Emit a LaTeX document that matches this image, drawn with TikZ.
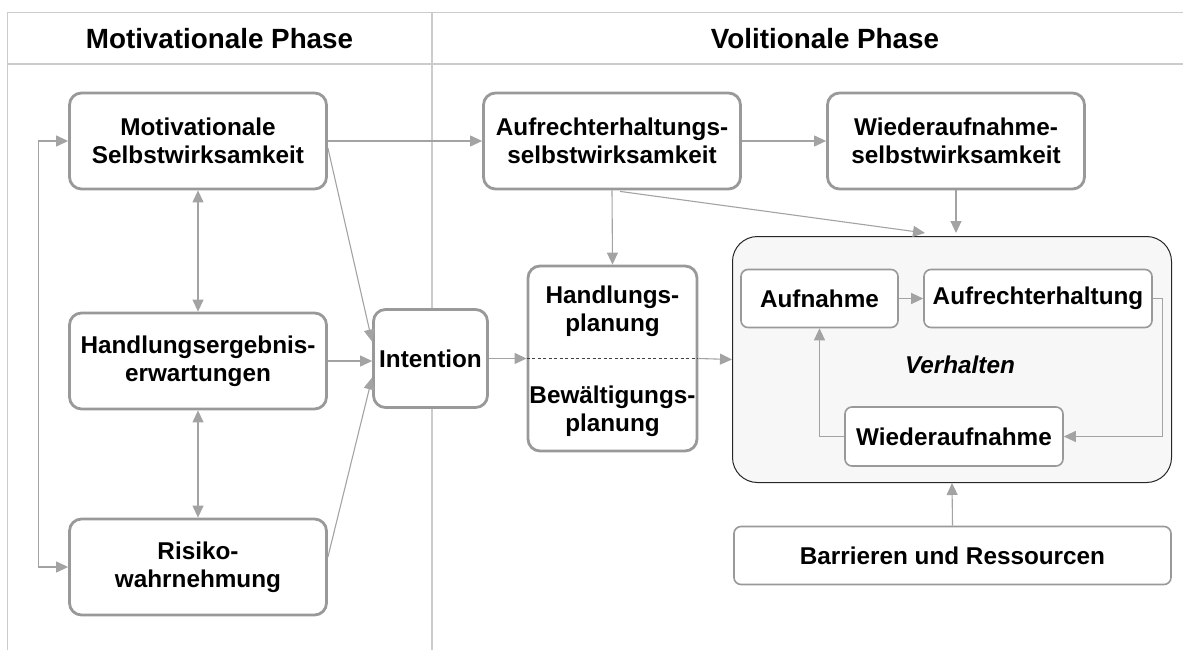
\documentclass[tikz,border=0pt]{standalone}
\usepackage{fontspec}
\setmainfont{Liberation Sans}
\usetikzlibrary{arrows.meta,calc}
\definecolor{boxgray}{HTML}{999999}
\definecolor{linegray}{HTML}{A3A3A3}
\definecolor{tablegray}{HTML}{CCCCCC}
\definecolor{verhfill}{HTML}{F7F7F7}

\begin{document}
\begin{tikzpicture}[x=1pt,y=-1pt,
  every node/.style={font=\fontsize{24.3}{28}\selectfont\bfseries, align=center, inner sep=0pt},
  header/.style={font=\fontsize{27.8}{32}\selectfont\bfseries},
  mainbox/.style={draw=boxgray, line width=2.8pt, rounded corners=12pt, fill=white,
    minimum width=257pt, minimum height=96pt},
  smallbox/.style={draw=boxgray, line width=1.6pt, rounded corners=7pt, fill=white,
    minimum height=58pt},
  arr/.style={draw=linegray, line width=1.1pt, -{Triangle[length=12pt,width=11pt]}},
  dblarr/.style={draw=linegray, line width=1.1pt, {Triangle[length=12pt,width=11pt]}-{Triangle[length=12pt,width=11pt]}},
  tableline/.style={draw=tablegray, line width=1.6pt}
]
\useasboundingbox (0,0) rectangle (1183,650);

% table frame with the two phase columns
\draw[tableline] (1183,12.5) -- (7.5,12.5) -- (7.5,650);
\draw[tableline] (7.5,64) -- (1183,64);
\draw[tableline] (432,12.5) -- (432,650);
\node[header] (hmot) at (219.5,39) {Motivationale Phase};
\node[header] (hvol) at (825,39) {Volitionale Phase};

% motivational phase
\node[mainbox] (ms) at (198,141) {Motivationale\\Selbstwirksamkeit};
\node[mainbox] (he) at (198,361) {Handlungsergebnis-\\erwartungen};
\node[mainbox] (rw) at (198,567) {Risiko-\\wahrnehmung};
\node[mainbox, minimum width=114pt, minimum height=98pt] (int) at (430.5,358.5) {Intention};

% volitional phase
\node[mainbox] (as) at (612,141) {Aufrechterhaltungs-\\selbstwirksamkeit};
\node[mainbox] (ws) at (956,141) {Wiederaufnahme-\\selbstwirksamkeit};
\node[mainbox, minimum width=169pt, minimum height=185pt] (plan) at (612.5,358.5) {};
\node (hp) at (612.5,311) {Handlungs-\\planung};
\node (bp) at (612.5,411) {Bewältigungs-\\planung};
\draw[draw=black!75, line width=0.9pt, dash pattern=on 3pt off 2.5pt] (plan.west) -- (plan.east);

% behaviour
\node[draw=black!85, line width=1pt, rounded corners=25pt, fill=verhfill,
  minimum width=439pt, minimum height=246pt] (verh) at (952,359.5) {};
\node[font=\fontsize{24.3}{28}\selectfont\bfseries\itshape] (verhlabel) at (960,365) {Verhalten};
\node[smallbox, minimum width=157pt] (aufn) at (819.5,298.5) {Aufnahme};
\node[smallbox, minimum width=228pt] (aufr) at (1038,298.5) {Aufrechterhaltung};
\node[smallbox, minimum width=218pt, minimum height=59pt] (wied) at (954,436.5) {Wiederaufnahme};
\node[smallbox, minimum width=437pt] (barr) at (952.5,555.5) {Barrieren und Ressourcen};

% connectors
\draw[dblarr] (ms.west) -- ++(-30,0) |- (rw.west);
\draw[dblarr] (ms.south) -- (he.north);
\draw[dblarr] (he.south) -- (rw.north);
\draw[arr] ($(ms.east)+(0,7)$) -- ($(int.west)+(0,-17)$);
\draw[arr] (he.east) -- (he.east -| int.west);
\draw[arr] ($(rw.east)+(0,-10)$) -- ($(int.west)+(0,19)$);
\draw[arr] (ms.east) -- (as.west);
\draw[arr] (as.east) -- (ws.west);
\draw[arr] (as.south) -- (plan.north);
\draw[arr] ($(as.south)+(8,1)$) -- ($(verh.north)+(-27,-3)$);
\draw[arr] (ws.south) -- ($(verh.north)+(4,-3)$);
\draw[arr] (int.east |- plan.west) -- (plan.west);
\draw[arr] (plan.east) -- (verh.west);
\draw[arr] (aufn.east) -- (aufr.west);
\draw[arr] (aufr.east) -- ++(10,0) |- (wied.east);
\draw[arr] (wied.west) -| (aufn.south);
\draw[arr] (barr.north) -- (verh.south);
\end{tikzpicture}
\end{document}
